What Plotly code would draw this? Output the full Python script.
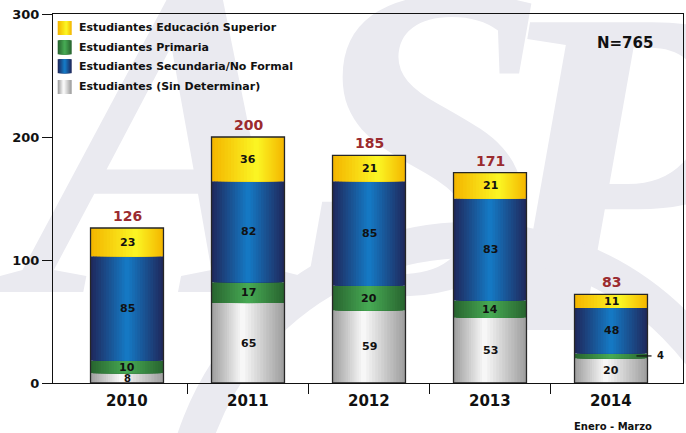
import base64
import plotly.graph_objects as go

# ---------------- data ----------------
years = ["2010", "2011", "2012", "2013", "2014"]
sin_determinar = [8, 65, 59, 53, 20]
primaria = [10, 17, 20, 14, 4]
secundaria = [85, 82, 85, 83, 48]
superior = [23, 36, 21, 21, 11]
totales = [126, 200, 185, 171, 83]
# heights as drawn in the picture (the 2014 blue segment is drawn shorter than its label)
secundaria_drawn = [85, 82, 85, 83, 37]
y_ticks = [0, 100, 200, 300]
n_label = "N=765"
period_note = "Enero - Marzo"

FONT = "DejaVu Sans"
W = 0.603      # bar width (category units)
NSTRIP = 14    # strips used to imitate the horizontal gradient


def hex2rgb(h):
    h = h.lstrip("#")
    return tuple(int(h[i:i + 2], 16) for i in (0, 2, 4))


def mix(c1, c2, t):
    a, b = hex2rgb(c1), hex2rgb(c2)
    return "rgb(%d,%d,%d)" % tuple(round(a[i] + (b[i] - a[i]) * t) for i in range(3))


# name, drawn heights, labels, edge colour, peak colour, peak position (0..1 across bar)
series = [
    ("Estudiantes (Sin Determinar)", sin_determinar, sin_determinar, "#a0a0a0", "#f7f7f7", 0.42),
    ("Estudiantes Primaria", primaria, primaria, "#296630", "#46a853", 0.5),
    ("Estudiantes Secundaria/No Formal", secundaria_drawn, secundaria, "#1f2a5e", "#1578c3", 0.5),
    ("Estudiantes Educación Superior", superior, superior, "#f4b700", "#fbf423", 0.62),
]

x = list(range(len(years)))
fig = go.Figure()
base = [0] * len(years)

for name, h, lab, edge, peak, pk in series:
    for k in range(NSTRIP):
        t = k / (NSTRIP - 1)
        left = -W / 2 + k / NSTRIP * (pk * W)
        right = W / 2 - k / NSTRIP * ((1 - pk) * W)
        fig.add_trace(go.Bar(
            x=x, y=h, base=base, width=right - left, offset=left,
            marker=dict(color=mix(edge, peak, t), line=dict(width=0)),
            showlegend=False, hoverinfo="skip", name=name))
    for i in x:
        if h[i] < 6:
            ymid = base[i] + h[i] / 2
            fig.add_shape(type="line", xref="x", yref="y",
                          x0=i + 0.21, x1=i + 0.335, y0=ymid, y1=ymid,
                          line=dict(color="#111111", width=1.2))
            fig.add_annotation(x=i + 0.36, y=ymid, text=str(lab[i]), showarrow=False,
                               xanchor="left", yanchor="middle",
                               font=dict(family=FONT, size=10, color="#111111", weight="bold"))
        else:
            fs = 10 if h[i] < 10 else 11
            fig.add_annotation(x=i, y=base[i] + h[i] / 2, text=str(lab[i]), showarrow=False,
                               xanchor="center", yanchor="middle",
                               font=dict(family=FONT, size=fs, color="#111111", weight="bold"))
    base = [b + v for b, v in zip(base, h)]

# outline of each whole bar
fig.add_trace(go.Bar(x=x, y=base, base=[0] * len(years), width=W,
                     marker=dict(color="rgba(0,0,0,0)", line=dict(color="#262626", width=1.3)),
                     showlegend=False, hoverinfo="skip"))

# totals above bars
for i in x:
    fig.add_annotation(x=i, y=base[i], text=str(totales[i]), showarrow=False,
                       xanchor="center", yanchor="middle", yshift=12,
                       font=dict(family=FONT, size=14, color="#9b2b2f", weight="bold"))

# year labels
for i in x:
    fig.add_annotation(x=i, y=0, yref="paper", text=years[i], showarrow=False,
                       xanchor="center", yanchor="middle", yshift=-18,
                       font=dict(family=FONT, size=15, color="#111111", weight="bold"))
fig.add_annotation(x=4.02, y=0, yref="paper", text=period_note, showarrow=False,
                   xanchor="center", yanchor="middle", yshift=-43,
                   font=dict(family=FONT, size=10, color="#111111", weight="bold"))

L, R, T, B = 53, 3, 14, 50
PW, PH = 686 - L - R, 433 - T - B


def xp(px):
    return (px - L) / PW


def yp(py):
    return (433 - B - py) / PH


fig.add_annotation(x=xp(625), y=yp(42.5), xref="paper", yref="paper", text=n_label,
                   showarrow=False, xanchor="center", yanchor="middle",
                   font=dict(family=FONT, size=15, color="#111111", weight="bold"))

# custom legend (gradient squares + text), top-left inside the plot
legend_rows = [series[3], series[1], series[2], series[0]]
row_centers = [28, 47.3, 66.2, 87]
for (name, h, lab, edge, peak, pk), cy in zip(legend_rows, row_centers):
    x0, x1 = 57.7, 71.7
    y0, y1 = cy - 7, cy + 7
    n = 7
    for k in range(n):
        t = k / (n - 1)
        lx = x0 + k / n * (pk * (x1 - x0))
        rx = x1 - k / n * ((1 - pk) * (x1 - x0))
        fig.add_shape(type="rect", xref="paper", yref="paper",
                      x0=xp(lx), x1=xp(rx), y0=yp(y1), y1=yp(y0),
                      fillcolor=mix(edge, peak, t), line=dict(width=0))
    fig.add_annotation(x=xp(77), y=yp(cy), xref="paper", yref="paper", text=name,
                       showarrow=False, xanchor="left", yanchor="middle",
                       font=dict(family=FONT, size=11, color="#111111", weight="bold"))

# faint background watermark (logo letters)
wm_color = "#eaeaf0"
svg = (
    '<svg xmlns="http://www.w3.org/2000/svg" width="686" height="433" viewBox="0 0 686 433">'
    '<g font-family="Liberation Serif, serif" font-weight="bold" font-style="italic" fill="%s">'
    '<text x="20" y="292" font-size="450">A</text>'
    '<text x="300" y="292" font-size="450">S</text>'
    '<text x="480" y="330" font-size="470">P</text>'
    '</g>'
    '<g fill="none" stroke="%s" stroke-width="36">'
    '<circle cx="470" cy="530" r="290"/>'
    '</g>'
    '</svg>' % (wm_color, wm_color)
)
src = "data:image/svg+xml;base64," + base64.b64encode(svg.encode("utf-8")).decode("ascii")
fig.add_layout_image(dict(source=src, xref="paper", yref="paper",
                          x=-L / PW, y=1 + T / PH, sizex=686 / PW, sizey=433 / PH,
                          xanchor="left", yanchor="top", sizing="stretch", layer="below"))

xmin = -74 / 121
xmax = xmin + PW / 121
fig.update_layout(
    width=686, height=433,
    margin=dict(l=L, r=R, t=T, b=B),
    barmode="overlay",
    paper_bgcolor="white", plot_bgcolor="rgba(0,0,0,0)",
    showlegend=False,
    xaxis=dict(range=[xmin, xmax], tickvals=[0.5, 1.5, 2.5, 3.5], ticks="outside",
               ticklen=10, tickwidth=1, tickcolor="#111111", showticklabels=False,
               showline=True, linecolor="#111111", linewidth=1, mirror=True,
               showgrid=False, zeroline=False, fixedrange=True),
    yaxis=dict(range=[0, 300], tickvals=y_ticks, ticks="outside", ticklen=10,
               tickwidth=1, tickcolor="#111111",
               tickfont=dict(family=FONT, size=13, color="#111111", weight="bold"),
               showline=True, linecolor="#111111", linewidth=1, mirror=True,
               showgrid=False, zeroline=False, fixedrange=True),
)

fig.write_html("out.html", config={"displayModeBar": False},
               post_script="document.body.style.margin='0';")
